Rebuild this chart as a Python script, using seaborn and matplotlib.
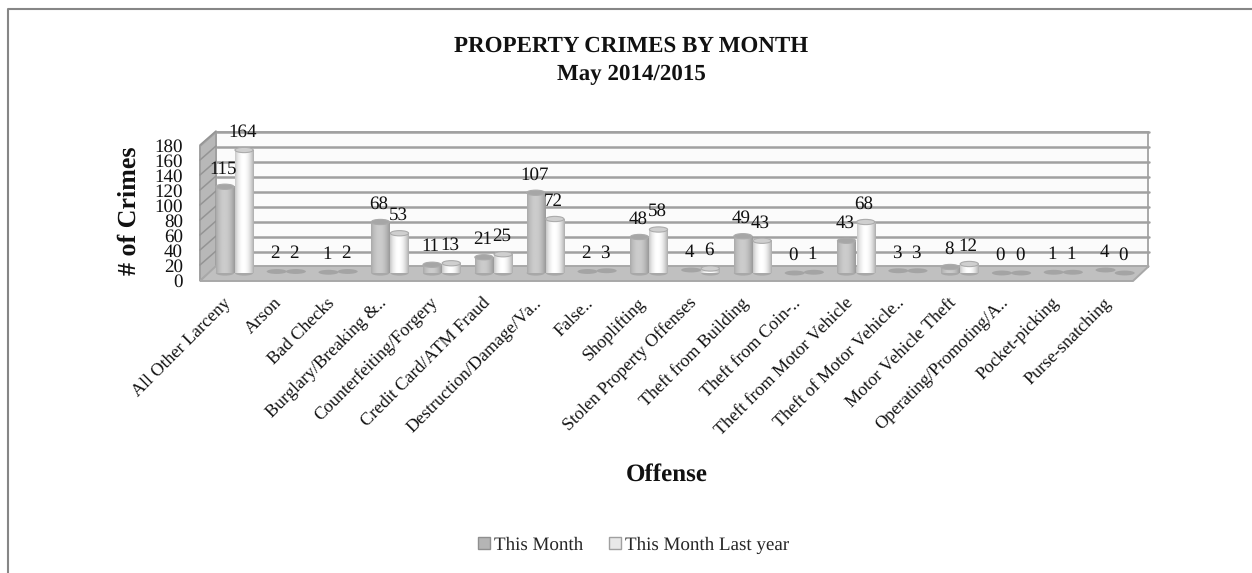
import matplotlib
matplotlib.use("Agg")
import matplotlib.pyplot as plt
import matplotlib.transforms as mtrans
from matplotlib.lines import Line2D
from matplotlib.patches import Ellipse, Patch, Polygon
import numpy as np
import pandas as pd
import seaborn as sns

OFFENSES = ["All Other Larceny", "Arson", "Bad Checks", "Burglary/Breaking &..",
            "Counterfeiting/Forgery", "Credit Card/ATM Fraud", "Destruction/Damage/Va..",
            "False..", "Shoplifting", "Stolen Property Offenses", "Theft from Building",
            "Theft from Coin-..", "Theft from Motor Vehicle", "Theft of Motor Vehicle..",
            "Motor Vehicle Theft", "Operating/Promoting/A..", "Pocket-picking", "Purse-snatching"]
THIS_MONTH = [115, 2, 1, 68, 11, 21, 107, 2, 48, 4, 49, 0, 43, 3, 8, 0, 1, 4]
LAST_YEAR = [164, 2, 2, 53, 13, 25, 72, 3, 58, 6, 43, 1, 68, 3, 12, 0, 1, 0]
YTICKS = [0, 20, 40, 60, 80, 100, 120, 140, 160, 180]

W, H = 1252, 573
FONT = "Liberation Serif"

sns.set_theme(style="white")
plt.rcParams["font.family"] = [FONT, "DejaVu Sans"]
plt.rcParams["text.hinting"] = "no_hinting"
plt.rcParams["text.hinting_factor"] = 1

df = pd.DataFrame({"offense": OFFENSES, "This Month": THIS_MONTH, "This Month Last year": LAST_YEAR})
df = df.melt(id_vars="offense", var_name="series", value_name="crimes")

fig = plt.figure(figsize=(W / 100, H / 100), dpi=100, facecolor="white")
# front plane of the fake 3d box, in pixels from the top left
ax = fig.add_axes([208.6 / W, (H - 273) / H, 932.4 / W, 135 / H])
ax.patch.set_visible(False)

sns.barplot(data=df, x="offense", y="crimes", hue="series", order=OFFENSES,
            palette=["#b5b5b5", "#e8e8e8"], width=0.74, gap=0.05, legend=False,
            errorbar=None, ax=ax, zorder=2)
sns.despine(ax=ax, left=True, bottom=True)
bars = list(ax.patches)


def px_poly(points, **kw):
    pts = [(x, H - y) for x, y in points]
    poly = Polygon(pts, closed=True, transform=mtrans.IdentityTransform(), clip_on=False, **kw)
    ax.add_patch(poly)


ax.set_xlim(-0.5, 17.5)
ax.set_ylim(0, 180)
fig.canvas.draw()

# back wall, side wall, floor
px_poly([(216, 132), (1148, 132), (1148, 267), (216, 267)], facecolor="#fbfbfb", edgecolor="#a8a8a8", lw=1.4, zorder=0)
px_poly([(200, 146), (216, 132), (216, 267), (200, 281)], facecolor="#b8b8b8", edgecolor="#a0a0a0", lw=1.4, zorder=0.5)
px_poly([(200, 281), (216, 266), (1149, 266), (1133, 281)], facecolor="#c0c0c0", edgecolor="#a8a8a8", lw=1.4, zorder=1)

back = mtrans.offset_copy(ax.transData, fig=fig, x=8, y=6, units="dots")
for v in YTICKS[1:]:
    ax.plot([-0.5, 17.5], [v, v], color="#a0a0a0", lw=1.8, transform=back, clip_on=False, zorder=0.3)
    y = ax.transData.transform((0, v))[1]
    ax.add_line(Line2D([200, 216], [y - 7, y + 7], color="#949494", lw=1.1,
                       transform=mtrans.IdentityTransform(), zorder=0.6, clip_on=False))

# shade every bar as a cylinder
xs = np.linspace(-1, 1, 40)
for i, p in enumerate(bars):
    v = p.get_height()
    x0 = p.get_x()
    w = p.get_width()
    low, high = (0.6, 0.8) if i < len(OFFENSES) else (0.68, 1.0)
    grad = low + (high - low) * (1 - ((xs + 0.1) / 1.1) ** 2)
    if v > 4:
        ax.imshow(grad[None, :], cmap="gray", vmin=0, vmax=1, aspect="auto", interpolation="bilinear",
                  extent=(x0, x0 + w, 0, v), zorder=3)
        ax.add_patch(Ellipse((x0 + w / 2, 0), w, 7, facecolor="#a8a8a8", edgecolor="none", clip_on=False, zorder=2.5))
        top = "#a6a6a6" if i < len(OFFENSES) else "#cfcfcf"
        ax.add_patch(Ellipse((x0 + w / 2, v), w, 7, facecolor=top, edgecolor="#ababab", lw=0.8, clip_on=False, zorder=4))
    else:
        ax.add_patch(Ellipse((x0 + w / 2, v), w * 1.1, 6.5, facecolor="#a4a4a4", edgecolor="none", clip_on=False, zorder=4))
    p.set_visible(False)
    ax.annotate(f"{v:.0f}", (x0 + w / 2, v), xytext=(-1.5, 18), textcoords="offset pixels",
                ha="center", va="center", fontsize=14, color="#111111", zorder=6, annotation_clip=False)

ax.set_xlim(-0.5, 17.5)
ax.set_ylim(0, 180)

ax.set_yticks(YTICKS)
ax.set_yticklabels([str(v) for v in YTICKS], fontsize=14, color="#111111")
ax.tick_params(axis="y", length=0, pad=18.4)
ax.tick_params(axis="x", length=0, pad=12)
ax.set_xticks(range(len(OFFENSES)))
ax.set_xticklabels(OFFENSES, fontsize=12.7, color="#111111", rotation=45, ha="right", rotation_mode="anchor", va="top")
ax.set_xlabel("")
ax.set_ylabel("")
shift = mtrans.ScaledTranslation(0, -7 / 100, fig.dpi_scale_trans)
for lab in ax.get_yticklabels():
    lab.set_transform(lab.get_transform() + shift)
shift_x = mtrans.ScaledTranslation(-12 / 100, -5 / 100, fig.dpi_scale_trans)
for lab in ax.get_xticklabels():
    lab.set_transform(lab.get_transform() + shift_x)

fig.text(631 / W, 1 - 46 / H, "PROPERTY CRIMES BY MONTH", ha="center", va="center", fontsize=16.5, fontweight="bold", color="#111111")
fig.text(631 / W, 1 - 75 / H, "May 2014/2015", ha="center", va="center", fontsize=16.5, fontweight="bold", color="#111111")
fig.text(129 / W, 1 - 211 / H, "# of Crimes", rotation=90, ha="center", va="center", fontsize=18.5, fontweight="bold", color="#111111")
fig.text(667 / W, 1 - 475 / H, "Offense", ha="center", va="center", fontsize=18, fontweight="bold", color="#111111")

handles = [Patch(facecolor="#b5b5b5", edgecolor="#8f8f8f", label="This Month"),
           Patch(facecolor="#e8e8e8", edgecolor="#a0a0a0", label="This Month Last year")]
fig.legend(handles=handles, loc="center", bbox_to_anchor=(634 / W, 1 - 545 / H), ncol=2, frameon=False,
           fontsize=13.8, handlelength=0.58, handleheight=0.58, handletextpad=0.25, columnspacing=1.35)

# chart frame runs off the right and bottom of the crop
fig.add_artist(Line2D([8 / W, 8 / W, 1], [0, 1 - 8.5 / H, 1 - 8.5 / H], color="#868686", lw=1.5))

fig.savefig("out.png", dpi=100)
